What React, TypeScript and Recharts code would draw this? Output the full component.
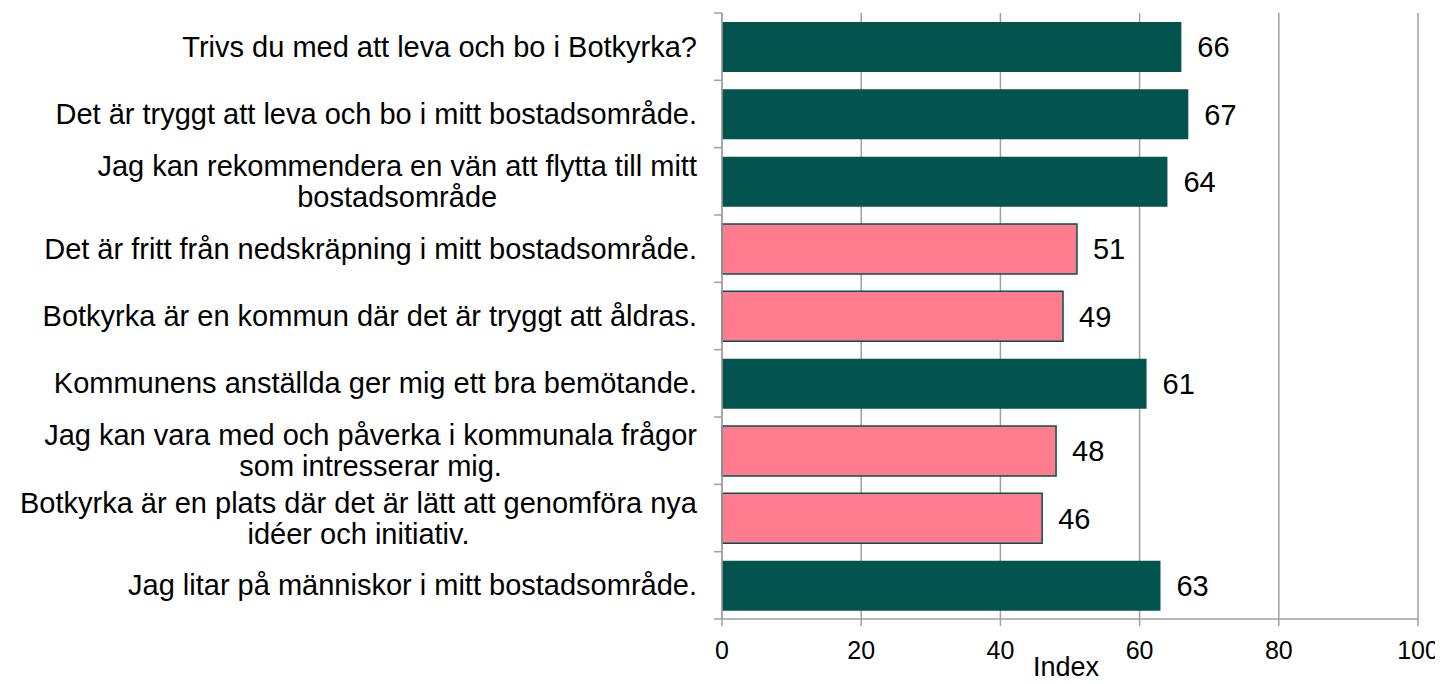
import React from 'react';
import { BarChart, Bar, XAxis, YAxis, CartesianGrid, LabelList, Cell } from 'recharts';

const questions = [
  'Trivs du med att leva och bo i Botkyrka?',
  'Det är tryggt att leva och bo i mitt bostadsområde.',
  'Jag kan rekommendera en vän att flytta till mitt\nbostadsområde',
  'Det är fritt från nedskräpning i mitt bostadsområde.',
  'Botkyrka är en kommun där det är tryggt att åldras.',
  'Kommunens anställda ger mig ett bra bemötande.',
  'Jag kan vara med och påverka i kommunala frågor\nsom intresserar mig.',
  'Botkyrka är en plats där det är lätt att genomföra nya\nidéer och initiativ.',
  'Jag litar på människor i mitt bostadsområde.',
];
const indexValues = [66, 67, 64, 51, 49, 61, 48, 46, 63];
const xTicks = [0, 20, 40, 60, 80, 100];

const GREEN = '#03534E';
const PINK = '#FF7C8F';
const AXIS = '#A0A0A0';
const FONT = '"Liberation Sans", Arial, sans-serif';
const LABEL_SIZE = 29;
const TICK_SIZE = 25;

// chart covers the whole window; the wrapper cancels the body margin
const W = 1443;
const H = 684;
const MARGIN = { top: 13, right: 25, left: 0, bottom: 0 };
const Y_WIDTH = 722;
const X_HEIGHT = 65;
const BAND = (H - MARGIN.top - MARGIN.bottom - X_HEIGHT) / questions.length;

const data = questions.map((q, i) => ({ q, value: indexValues[i] }));

let ctx: CanvasRenderingContext2D | null = null;
function textWidth(s: string) {
  if (!ctx) ctx = document.createElement('canvas').getContext('2d');
  if (!ctx) return s.length * 14;
  ctx.font = `${LABEL_SIZE}px ${FONT}`;
  return ctx.measureText(s).width;
}

// eslint-disable-next-line @typescript-eslint/no-explicit-any
function QuestionTick({ x, y, payload, index }: any) {
  const lines: string[] = String(payload.value).split('\n');
  const axisX = x + 8;
  const right = axisX - 25;
  const blockW = Math.max(...lines.map(textWidth));
  const cx = right - blockW / 2;
  const lineH = 31;
  const startY = y - ((lines.length - 1) * lineH) / 2;
  return (
    <g>
      <line x1={axisX - 8} x2={axisX} y1={y - BAND / 2} y2={y - BAND / 2} stroke={AXIS} strokeWidth={1.5} />
      {index === questions.length - 1 && (
        <line x1={axisX - 8} x2={axisX} y1={y + BAND / 2} y2={y + BAND / 2} stroke={AXIS} strokeWidth={1.5} />
      )}
      <text fontFamily={FONT} fontSize={LABEL_SIZE} fill="#000" textAnchor={lines.length > 1 ? 'middle' : 'end'}>
        {lines.map((l, i) => (
          <tspan key={i} x={lines.length > 1 ? cx : right} y={startY + i * lineH} dy="0.35em">
            {l}
          </tspan>
        ))}
      </text>
    </g>
  );
}

export default function App() {
  return (
    <div style={{ width: W, height: H, margin: -8 }}>
      <style>{'html, body { overflow: hidden; }'}</style>
      <BarChart width={W} height={H} data={data} layout="vertical" margin={MARGIN} barSize={50}>
        <CartesianGrid horizontal={false} stroke={AXIS} strokeWidth={1.5} />
        <XAxis
          type="number"
          domain={[0, 100]}
          ticks={xTicks}
          height={X_HEIGHT}
          axisLine={{ stroke: AXIS, strokeWidth: 1.5 }}
          tickLine={{ stroke: AXIS, strokeWidth: 1.5 }}
          tickSize={7}
          tickMargin={15}
          tick={{ fill: '#000', fontSize: TICK_SIZE, fontFamily: FONT }}
          label={{ value: 'Index', position: 'insideBottom', offset: 8, dx: -4, fill: '#000', fontSize: 27, fontFamily: FONT }}
        />
        <YAxis
          type="category"
          dataKey="q"
          width={Y_WIDTH}
          axisLine={{ stroke: AXIS, strokeWidth: 1.5 }}
          tickLine={false}
          interval={0}
          tick={<QuestionTick />}
        />
        <Bar dataKey="value" isAnimationActive={false}>
          {data.map((d, i) => {
            const low = d.value < 60;
            return <Cell key={i} fill={low ? PINK : GREEN} stroke={low ? GREEN : 'none'} strokeWidth={low ? 1.5 : 0} />;
          })}
          <LabelList dataKey="value" position="right" offset={16} fill="#000" fontSize={LABEL_SIZE} fontFamily={FONT} />
        </Bar>
      </BarChart>
    </div>
  );
}
